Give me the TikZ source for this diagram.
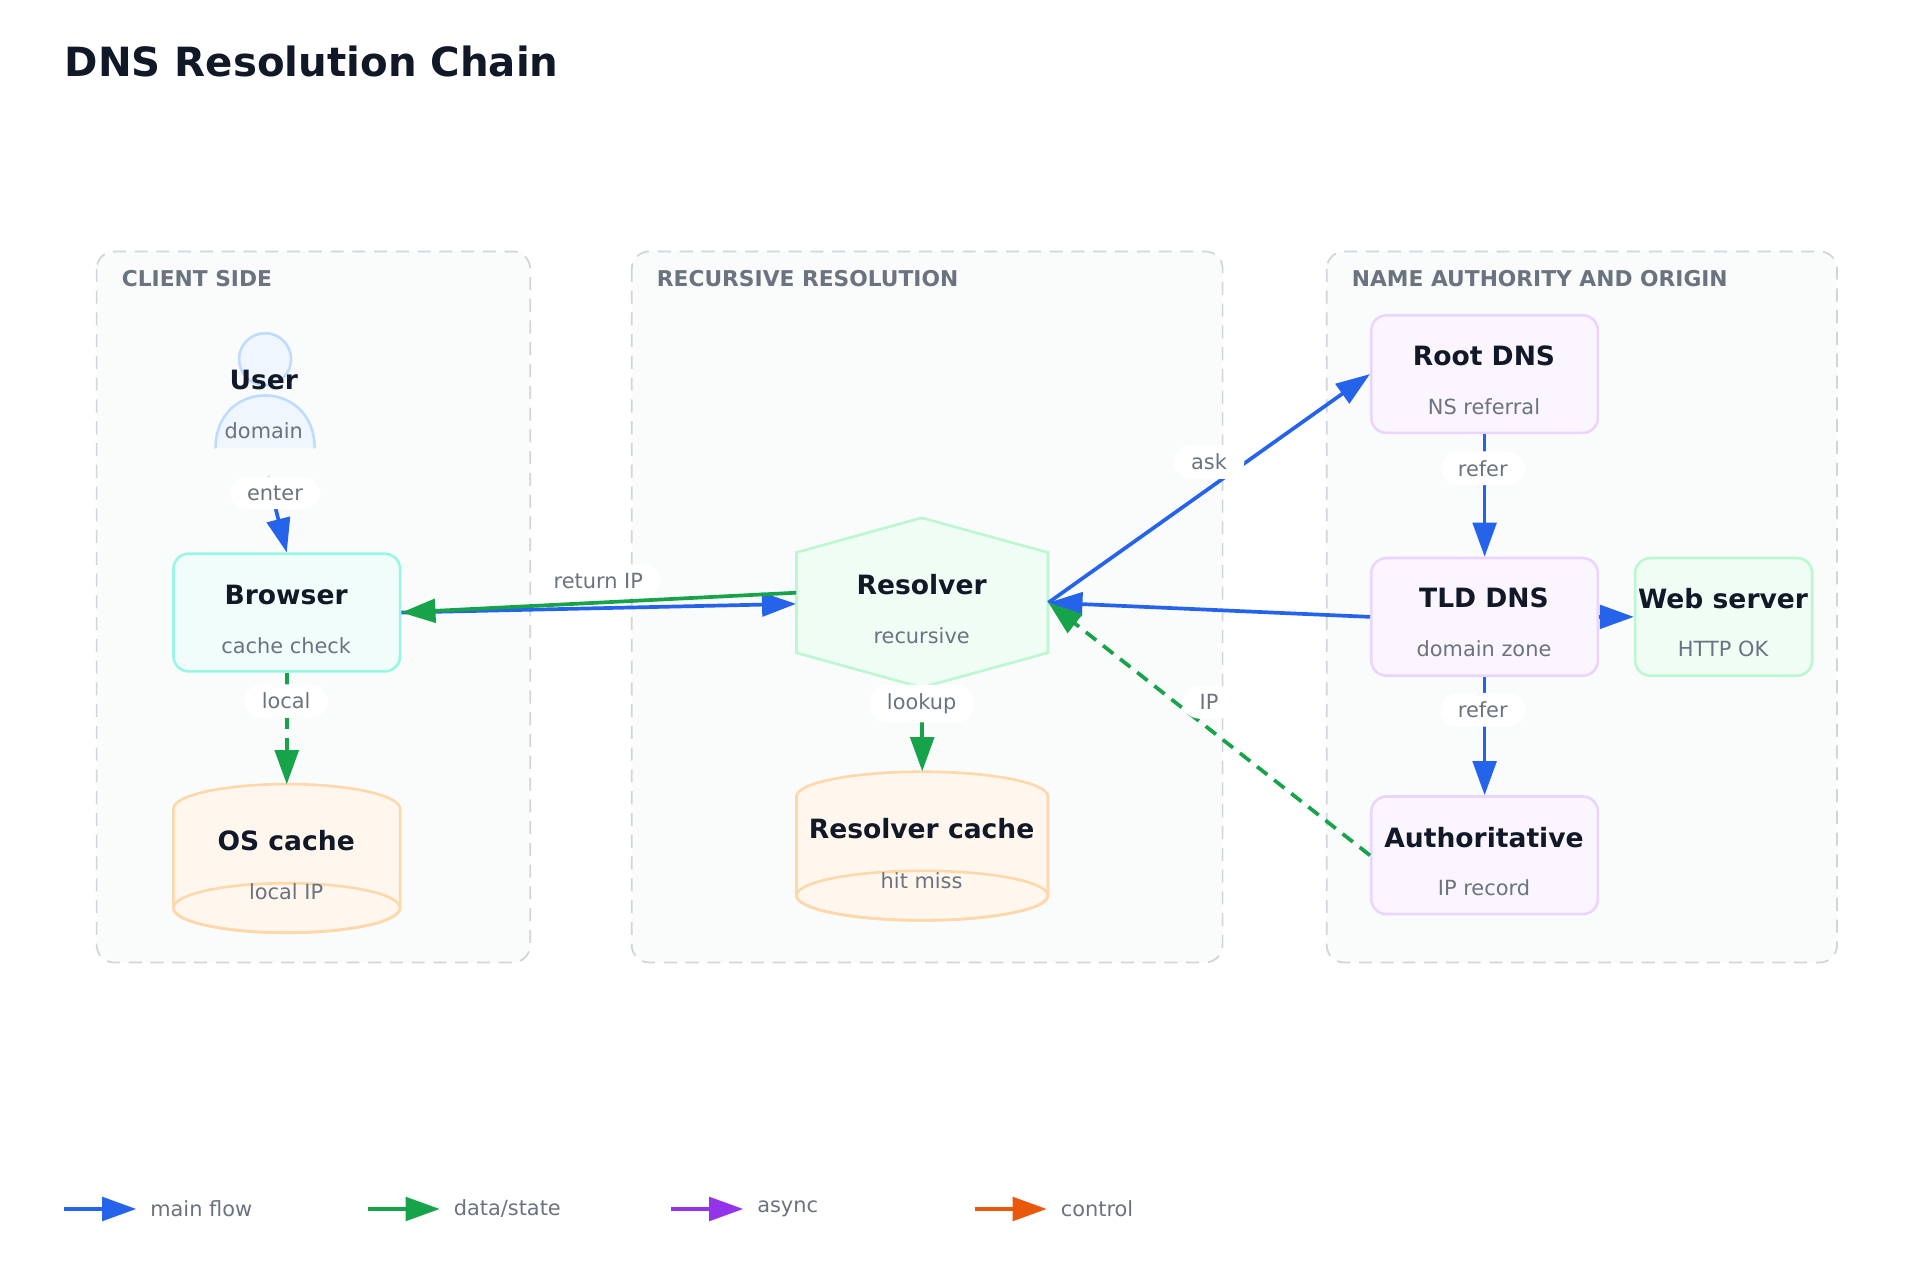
\documentclass[tikz,border=0pt]{standalone}
\usepackage{fontspec}
\setmainfont{DejaVu Sans}
\usetikzlibrary{arrows.meta,shapes.geometric}
\definecolor{cblue}{HTML}{2563EB}
\definecolor{cgreen}{HTML}{16A34A}
\definecolor{cpurple}{HTML}{9333EA}
\definecolor{corange}{HTML}{EA580C}
\definecolor{tdark}{HTML}{111827}
\definecolor{tgray}{HTML}{6B7280}
\definecolor{gfill}{HTML}{FAFBFB}
\definecolor{gline}{HTML}{D1D5DB}
\definecolor{tealF}{HTML}{F0FDFA}\definecolor{tealL}{HTML}{99F6E4}
\definecolor{orgF}{HTML}{FFF7ED}\definecolor{orgL}{HTML}{FED7AA}
\definecolor{grnF}{HTML}{F0FDF4}\definecolor{grnL}{HTML}{BBF7D0}
\definecolor{vioF}{HTML}{FAF5FF}\definecolor{vioL}{HTML}{E9D5FF}
\definecolor{bluF}{HTML}{EFF6FF}\definecolor{bluL}{HTML}{BFDBFE}
\tikzset{
 grp/.style={draw=gline,fill=gfill,line width=0.8pt,rounded corners=8pt,dash pattern=on 6pt off 4pt},
 glabel/.style={anchor=west,text=tgray,font=\fontsize{10}{12}\selectfont\bfseries},
 box/.style={draw=#1,line width=1.2pt,rounded corners=7pt,minimum width=3.66cm,minimum height=1.9cm},
 ttl/.style={text=tdark,font=\fontsize{12.2}{14}\selectfont\bfseries},
 sub/.style={text=tgray,font=\fontsize{9.6}{11}\selectfont},
 lbl/.style={fill=white,rounded corners=8pt,text=tgray,font=\fontsize{9.6}{11}\selectfont,inner xsep=8pt,inner ysep=4pt},
 ar/.style={line width=1.7pt,draw=#1,-{Triangle[length=0.55cm,width=0.38cm,fill=#1]}},
 ghost/.style={minimum width=#1,inner sep=0pt,draw=none},
 dsh/.style={dash pattern=on 6pt off 4pt},
}
\begin{document}
\begin{tikzpicture}[x=0.02cm,y=-0.02cm]
\useasboundingbox[fill=white] (0,0) rectangle (1550,1033);
\node[anchor=west,text=tdark,font=\fontsize{18.5}{22}\selectfont\bfseries,inner sep=0pt] (title) at (52,50) {DNS Resolution Chain};
% groups
\draw[grp] (78,203) rectangle (428,777);
\draw[grp] (510,203) rectangle (987,777);
\draw[grp] (1071,203) rectangle (1483,777);
\node[glabel,inner sep=0pt] (g1) at (98,225) {CLIENT SIDE};
\node[glabel,inner sep=0pt] (g2) at (530,225) {RECURSIVE RESOLUTION};
\node[glabel,inner sep=0pt] (g3) at (1091,225) {NAME AUTHORITY AND ORIGIN};
% user
\draw[draw=bluL,fill=bluF,line width=1.2pt] (214,290) circle[radius=21];
\draw[draw=bluL,fill=bluF,line width=1.2pt] (174,362) .. controls (174,305) and (254,305) .. (254,362);
\node[ttl] (user) at (213,307) {User};
\node[sub] (userd) at (213,348) {domain};
\coordinate (userb) at (216,385);
% browser
\node[box=tealL,fill=tealF] (browser) at (231.5,494.5) {};
\node[ttl] at (231,480) {Browser};
\node[sub] at (231,521) {cache check};
% os cache
\draw[draw=orgL,fill=orgF,line width=1.2pt] (140,653) arc[start angle=180,end angle=360,x radius=91.5,y radius=20] -- (323,733) arc[start angle=0,end angle=180,x radius=91.5,y radius=20] -- cycle;
\draw[draw=orgL,line width=1.2pt] (231.5,733) ellipse[x radius=91.5,y radius=20];
\node[ghost=3.66cm,minimum height=2.4cm] (oscache) at (231.5,693.5) {};
\node[ttl] at (231,679) {OS cache};
\node[sub] at (231,720) {local IP};
% resolver
\draw[draw=grnL,fill=grnF,line width=1.2pt] (744,418) -- (846,446) -- (846,527) -- (744,555) -- (643,527) -- (643,446) -- cycle;
\node[ghost=4.06cm,minimum height=2.74cm] (res) at (744.5,486.5) {};
\node[ttl] at (744,472) {Resolver};
\node[sub] at (744,513) {recursive};
% resolver cache
\draw[draw=orgL,fill=orgF,line width=1.2pt] (643,643) arc[start angle=180,end angle=360,x radius=101.5,y radius=20] -- (846,723) arc[start angle=0,end angle=180,x radius=101.5,y radius=20] -- cycle;
\draw[draw=orgL,line width=1.2pt] (744.5,723) ellipse[x radius=101.5,y radius=20];
\node[ghost=4.06cm,minimum height=2.44cm] (rcache) at (744.5,684) {};
\node[ttl] at (744,669) {Resolver cache};
\node[sub] at (744,711) {hit miss};
% authority boxes
\node[box=vioL,fill=vioF] (root) at (1198.5,302) {};
\node[ttl] at (1198,287) {Root DNS};
\node[sub] at (1198,328) {NS referral};
\node[box=vioL,fill=vioF] (tld) at (1198.5,498) {};
\node[ttl] at (1198,483) {TLD DNS};
\node[sub] at (1198,524) {domain zone};
\node[box=vioL,fill=vioF] (auth) at (1198.5,690.5) {};
\node[ttl] at (1198,676) {Authoritative};
\node[sub] at (1198,717) {IP record};
\node[box=grnL,fill=grnF,minimum width=2.86cm] (web) at (1391.5,498) {};
\node[ttl] at (1391,483) {Web server};
\node[sub] at (1391,524) {HTTP OK};
% edges
\draw[ar=cblue] (userb) -- (browser.north);
\node[lbl] at (222,398) {enter};
\draw[ar=cgreen,dsh] (browser.south) -- (oscache.north);
\node[lbl] at (231,566) {local};
\draw[ar=cblue] (browser.east) -- ([yshift=-0.02cm]res.west);
\draw[ar=cgreen] ([yshift=0.16cm]res.west) -- (browser.east);
\node[lbl] at (483,469) {return IP};
\draw[ar=cgreen] (res.south) -- (rcache.north);
\node[lbl] at (744,568) {lookup};
\draw[ar=cblue] (res.east) -- (root.west);
\node[lbl] at (976,373) {ask};
\draw[ar=cblue] (root.south) -- (tld.north);
\node[lbl] at (1197,378) {refer};
\draw[ar=cblue] (tld.west) -- (res.east);
\draw[ar=cblue] (tld.east) -- (web.west);
\draw[ar=cblue] (tld.south) -- (auth.north);
\node[lbl] at (1197,573) {refer};
\draw[ar=cgreen,dsh] (auth.west) -- (res.east);
\node[lbl] at (976,567) {IP};
% legend
\coordinate (l1a) at (52,976); \coordinate (l1b) at (110,976);
\coordinate (l2a) at (297,976); \coordinate (l2b) at (355,976);
\coordinate (l3a) at (542,976); \coordinate (l3b) at (600,976);
\coordinate (l4a) at (787,976); \coordinate (l4b) at (845,976);
\draw[ar=cblue] (l1a) -- (l1b);
\draw[ar=cgreen] (l2a) -- (l2b);
\draw[ar=cpurple] (l3a) -- (l3b);
\draw[ar=corange] (l4a) -- (l4b);
\node[sub,anchor=west,inner sep=0pt] (t1) at (121,976) {main flow};
\node[sub,anchor=west,inner sep=0pt] (t2) at (366,976) {data/state};
\node[sub,anchor=west,inner sep=0pt] (t3) at (611,976) {async};
\node[sub,anchor=west,inner sep=0pt] (t4) at (856,976) {control};
\end{tikzpicture}
\end{document}
